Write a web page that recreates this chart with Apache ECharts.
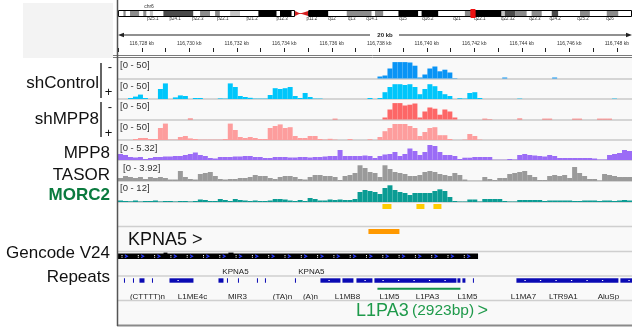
<!DOCTYPE html>
<html><head><meta charset="utf-8">
<script src="https://cdn.jsdelivr.net/npm/echarts@6/dist/echarts.min.js"></script>
<style>html,body{margin:0;padding:0;background:#fff;overflow:hidden}#chart{width:632px;height:329px}</style>
</head><body><div id="chart"></div>
<script>
// ---------------- view (kb) ----------------
const viewStartKb = 116727;
const viewEndKb = 116748;

// ---------------- signal tracks: 103 equal bins across the view ----------------
const shControlMinus = [
 0,0,0,0,0,0,0,0,0,0, 0,0,0,0,0,0,0,0,0,0, 0,0,0,0,0,0,0,0,0,0, 0,0,0,0,0,0,0,0,0,0,
 0,0,0,0,0,0,0,0,0,0, 0,0,5,7.5,25,41,41,41,40,32, 2.5,10,25,30,18,22,15,1,0,0,
 0,0,0,0,0,0,0,2.5,0,0, 0,0,0,0,0,0,0,2.5,0,0, 0,0,0,0,0,0,0,0,0,0, 0,0,0];
const shControlPlus = [
 0,0,2.5,6,11,2.5,0,0,25,39, 0,4,9,7.5,0,2.5,2.5,0,0,0, 1.5,1,39,30,7.5,5,3,1,1,1,
 10,27,25,27,30,7.5,2.5,15,5,1, 1,0,0,0,0,0,0,0,0,0, 2.5,0,2.5,17,30,37,37,35,37,30,
 12,25,37,32,20,12,7.5,0,2,1, 15,17,2.5,0,0,0,0,0,0,0, 1,0,0,0,0,0,0,0,0,0,
 0,0,0,0,0,0,0,0,0,1, 0,0,0];
const shMPP8Minus = [
 0,0,0,0,0,0,0,0,0,0, 0,0,0,0,2.5,0,0,0,0,0, 0,0,0,0,0,0,0,0,0,0, 0,0,0,0,0,0,0,0,0,0,
 0,0,0,2,0,0,0,0,0,0, 0,0,0,5,25,41,41,35,37,40, 5,20,30,27,12,25,20,5,0,0,
 0,0,0,2,1,0,0,0,0,0, 2.5,0,0,0,0,2,2,0,0,0, 0,2,2,0,0,0,2,2,2,0, 0,0,0];
const shMPP8Plus = [
 0,0,0,2.5,5,5,2.5,2.5,30,41, 1,1,7.5,10,4,2.5,1,1,1,1, 1,2.5,41,25,7.5,5,7.5,5,2.5,2.5,
 30,35,39,30,32,10,5,5,10,10, 2.5,1,3,1,0,0,2.5,0,0,0, 2,0,7.5,22,30,40,40,40,35,30,
 10,20,30,32,12,12,2.5,0,0,1, 15,10,1,0,0,0,0,0,0,0, 0,0,0,0,0,0,0,0,0,0,
 0,0,0,0,0,0,0,0,0,0, 0,0,0];
const mpp8 = [
 1.68,1.4,0.84,0.7,0.84,0.28,0.56,0.84,0.84,0.98, 0.98,1.12,1.12,1.4,1.68,2.1,1.4,1.12,0.56,0.42,
 0.84,0.84,0.84,0.98,0.98,1.12,1.12,0.84,0.84,0.56, 0.56,0.84,0.84,0.84,0.7,0.7,0.84,0.84,0.7,0.84,
 0.84,0.98,1.12,1.12,2.8,1.12,1.12,1.12,1.12,1.26, 1.12,0.56,1.12,1.54,1.68,2.24,1.12,1.68,3.22,2.52,
 1.4,2.24,4.2,3.92,2.24,1.4,1.4,1.12,0.28,0.64, 0.64,0.84,0.84,0.84,0.84,0.08,0.08,0.08,0.28,0.14,
 1.4,1.68,1.4,1.26,1.12,0.98,1.4,1.12,0.56,0.56, 0.56,0.56,0.56,0.56,0.56,0.42,0.14,0.14,1.4,1.68,
 1.96,2.8,2.52];
const tasor = [
 0.59,0.98,0.78,0.59,0.78,0.39,0.78,0.59,0.78,0.59, 0.29,0.29,1.96,0.78,0.39,0.29,1.37,1.57,1.76,0.98,
 0.39,0.29,0.39,0.39,0.59,0.59,0.78,1.18,0.98,0.98, 0.59,0.39,0.78,0.98,0.98,0.78,0.39,0.29,0.78,1.18,
 1.18,0.98,0.98,0.78,0.2,0.98,1.18,1.57,3.08,2.55, 1.76,1.57,0.78,3.08,2.35,1.76,1.57,1.37,0.98,0.98,
 1.18,1.76,1.96,1.76,1.37,1.18,0.98,1.57,1.18,0.29, 0.06,0.06,0.06,0.78,0.39,0.2,0.59,0.59,1.37,1.57,
 1.76,1.96,1.18,0.78,0.2,0.2,0.98,1.18,0.98,1.18, 0.59,2.74,1.57,0.98,0.39,0.39,0.1,1.37,1.18,0.98,
 0.78,0.78,0.78];
const morc2 = [
 0.86,0.57,0.4,0.86,0.29,0.57,0.57,0.86,0.29,0.57, 0.57,0.29,0.57,0.57,0.29,0.57,1.43,1.14,0.57,0.57,
 1.71,1.14,0.57,1.71,1.14,0.86,0.57,0.86,0.57,0.57, 0.86,1.71,1.71,1.43,0.86,0.57,1.14,0.57,2.28,1.71,
 0.86,0.86,1.43,1.14,1.43,1.14,1.14,1.71,5.71,6.85, 6.28,5.71,4.57,7.99,9.54,6.85,5.71,5.14,4.0,5.14,
 5.14,5.14,5.14,6.28,7.25,6.28,2.86,0.57,0.29,0.29, 1.43,1.43,0.29,1.71,1.71,1.71,1.71,0.57,0.29,0.29,
 1.14,1.14,1.14,1.14,1.14,0.57,0.86,0.86,0.86,0.86, 0.86,0.57,0.57,0.86,0.86,0.86,0.57,0.86,0.86,0.57,
 0.86,1.14,0.86];
const trackScaleMax = [50, 50, 50, 50, 5.32, 3.92, 12];
const trackScaleText = ['[0 - 50]','[0 - 50]','[0 - 50]','[0 - 50]','[0 - 5.32]','[0 - 3.92]','[0 - 12]'];

// ---------------- chromosome 6 ideogram (Mb) ----------------
const chromLengthMb = 171;
const ideogramBands = [
 [0,1.8,'gneg'],[1.8,2.6,'gpos50'],[2.6,4.0,'gneg'],[4.0,7.1,'gpos50'],[7.1,8.4,'gneg'],[8.4,9.5,'gpos50'],
 [9.5,10.6,'gneg'],[10.6,11.7,'gpos25'],[11.7,15.1,'gneg'],[15.1,25.1,'gpos75'],[25.1,27.3,'gneg'],
 [27.3,30.6,'gpos50'],[30.6,32.3,'gneg'],[32.3,33.9,'gpos50'],[33.9,37.3,'gneg'],[37.3,40.6,'gpos25'],
 [40.6,46.7,'gneg'],[46.7,52.8,'gpos100'],[52.8,53.9,'gneg'],[53.9,57.8,'gpos100'],[57.8,58.9,'gneg'],
 [58.9,60.6,'acenP'],[60.6,63.3,'acenQ'],[63.3,70.0,'gpos100'],[70.0,76.1,'gneg'],[76.1,84.4,'gpos50'],
 [84.4,85.5,'gneg'],[85.5,88.3,'gpos50'],[88.3,93.3,'gneg'],[93.3,99.9,'gpos100'],[99.9,101.0,'gneg'],
 [101.0,106.6,'gpos100'],[106.6,115.4,'gneg'],[115.4,117.4,'gpos50'],[117.4,127.6,'gpos100'],
 [127.6,128.7,'gpos25'],[128.7,132.1,'gpos75'],[132.1,136.0,'gpos50'],[136.0,137.6,'gneg'],
 [137.6,141.0,'gpos50'],[141.0,144.3,'gneg'],[144.3,146.5,'gpos75'],[146.5,153.7,'gneg'],
 [153.7,157.0,'gpos50'],[157.0,162.6,'gneg'],[162.6,166.5,'gpos50'],[166.5,171,'gneg']];
const ideogramArms = [[0,58.9],[63.3,171]];
const ideogramViewBox = [117.4,118.8];
const bandLabelPos = [11.6,19.0,26.6,34.9,44.6,54.6,64.5,71.2,77.8,84.5,94.8,103.1,112.8,120.4,129.7,138.7,145.4,154.7,163.7];
const bandLabelText = ['p25.1','p24.1','p22.3','p22.1','p21.2','p12.3','p11.2','q12','q13','q14.1','q15','q16.2','q21','q22.1','q22.32','q23.3','q24.2','q25.2','q26'];

// ---------------- annotation features (kb) ----------------
const peakRegions = [[116737.804,116738.172],[116739.193,116739.520],[116739.887,116740.214]];
const orangeRegions = [[116737.232,116738.498]];
const geneSpan = [[116727.0,116741.71]];
const geneExons = [[116728.86,116729.02],[116731.51,116731.72]];
const geneLabelPos = [116731.80,116734.90];
const geneLabelText = ['KPNA5','KPNA5'];
const repeatBlocks = [
 [116727.244,116727.285],[116727.612,116727.653],[116727.877,116728.082],[116728.388,116728.429],
 [116729.103,116730.083],[116731.105,116731.309],[116731.452,116731.493],[116731.901,116731.942],
 [116732.677,116732.718],[116733.004,116733.045],[116734.230,116734.271],[116735.271,116736.088],
 [116736.170,116736.619],[116736.742,116737.395],[116737.477,116740.827],[116740.868,116740.990],
 [116741.072,116741.194],[116741.501,116741.542],[116743.278,116747.444],[116747.526,116748.016]];
const repeatLabelPos = [116728.204,116730.042,116731.881,116733.719,116734.863,116736.374,116738.090,116739.642,116741.276,116743.564,116745.198,116747.036];
const repeatLabelText = ['(CTTTT)n','L1ME4c','MIR3','(TA)n','(A)n','L1MB8','L1M5','L1PA3','L1M5','L1MA7','LTR9A1','AluSp'];
const highlightRepeat = [[116737.600,116740.990]];

// ================= build =================
const FONT = '"Liberation Sans", Arial, Helvetica, sans-serif';
const L = 118, W = 514;
const grids = [], xAxes = [], yAxes = [], series = [];
function addGrid(top, height, xa, ya) {
  const gi = grids.length;
  grids.push({left: L, top: top, width: W, height: height, containLabel: false});
  xAxes.push(Object.assign({gridIndex: gi}, xa));
  yAxes.push(Object.assign({gridIndex: gi, show: false, splitLine: {show: false}}, ya));
  return gi;
}
const kbAxis = {type: 'value', min: viewStartKb, max: viewEndKb, show: false};
const bins = shControlMinus.map((_, i) => 'b' + i);

// ideogram
const stainColors = {gneg: '#ffffff', gpos25: '#c4c4c4', gpos50: '#8c8c8c', gpos75: '#4a4a4a', gpos100: '#000000'};
let gi = addGrid(11, 5, {type: 'value', min: 0, max: chromLengthMb, show: false}, {type: 'value', min: 0, max: 1});
series.push({type: 'custom', xAxisIndex: gi, yAxisIndex: gi, silent: true, data: ideogramBands.map(b => [b[0], b[1]]),
  renderItem(params, api) {
    const b = ideogramBands[params.dataIndex], cs = params.coordSys;
    const x1 = api.coord([b[0], 0])[0], x2 = api.coord([b[1], 0])[0], y0 = cs.y, h = cs.height;
    if (b[2] === 'acenP') return {type: 'group', children: [
      {type: 'polygon', shape: {points: [[x1, y0], [x2, y0 + h / 2], [x1, y0 + h]]}, style: {fill: '#d42020'}},
      {type: 'rect', shape: {x: x1, y: y0 + h / 2 - 0.5, width: x2 - x1, height: 1}, style: {fill: '#d42020'}}]};
    if (b[2] === 'acenQ') return {type: 'group', children: [
      {type: 'polygon', shape: {points: [[x2, y0], [x1, y0 + h / 2], [x2, y0 + h]]}, style: {fill: '#d42020'}},
      {type: 'rect', shape: {x: x1, y: y0 + h / 2 - 0.5, width: x2 - x1, height: 1}, style: {fill: '#d42020'}}]};
    return {type: 'rect', shape: {x: x1, y: y0, width: x2 - x1, height: h}, style: {fill: stainColors[b[2]]}};
  }});
series.push({type: 'custom', xAxisIndex: gi, yAxisIndex: gi, silent: true, z: 3, data: ideogramArms,
  renderItem(params, api) {
    const cs = params.coordSys, x1 = api.coord([api.value(0), 0])[0], x2 = api.coord([api.value(1), 0])[0];
    return {type: 'rect', shape: {x: x1 + 0.5, y: cs.y - 0.5, width: x2 - x1 - 1, height: cs.height + 1},
      style: {fill: 'none', stroke: '#000', lineWidth: 1}};
  }});
series.push({type: 'custom', xAxisIndex: gi, yAxisIndex: gi, silent: true, z: 4, data: [ideogramViewBox],
  renderItem(params, api) {
    const cs = params.coordSys, x1 = api.coord([api.value(0), 0])[0], x2 = api.coord([api.value(1), 0])[0];
    return {type: 'rect', shape: {x: x1, y: cs.y - 1.5, width: x2 - x1, height: cs.height + 3},
      style: {fill: '#ee1111', stroke: '#ee1111', lineWidth: 1}};
  }});
series.push({type: 'custom', xAxisIndex: gi, yAxisIndex: gi, silent: true, data: bandLabelPos.map(p => [p, 0]),
  renderItem(params, api) {
    const cs = params.coordSys, x = api.coord([api.value(0), 0])[0];
    return {type: 'text', style: {text: bandLabelText[params.dataIndex], x: x, y: cs.y + cs.height + 2.5,
      fill: '#333', fontSize: 4.5, fontFamily: FONT, align: 'center', verticalAlign: 'middle'}};
  }});

// ruler
const fmtKb = v => String(v).replace(/\B(?=(\d{3})+(?!\d))/g, ',') + ' kb';
gi = addGrid(44, 8, {type: 'value', min: viewStartKb, max: viewEndKb, interval: 1, show: true,
  axisLine: {show: false}, splitLine: {show: false},
  axisTick: {show: true, inside: true, length: 4, lineStyle: {color: '#222', width: 1}},
  axisLabel: {show: true, inside: true, margin: 6, fontSize: 5, color: '#333', fontFamily: FONT,
    showMinLabel: true, showMaxLabel: true, hideOverlap: false,
    formatter: v => (v % 2 === 0 ? fmtKb(v) : '')}}, {type: 'value', min: 0, max: 1});

// signal tracks
const trackData = [shControlMinus, shControlPlus, shMPP8Minus, shMPP8Plus, mpp8, tasor, morc2];
const trackColors = ['#0a94f5', '#00c6fb', '#fd6767', '#fd9d9d', '#9b6cf6', '#9a9a9a', '#0b9c94'];
const trackTops = [58.5, 79, 99.5, 120, 141, 161, 181];
const trackHeights = [20, 20, 20, 20, 19, 20, 21];
const scaleLabelX = [120, 120, 120, 120, 120, 123, 120];
const graphics = [];
trackData.forEach((d, k) => {
  const g = addGrid(trackTops[k], trackHeights[k], {type: 'category', data: bins, show: true, boundaryGap: true,
      axisLine: {show: true, lineStyle: {color: '#c9c9c9', width: 1.6}}, axisTick: {show: false}, axisLabel: {show: false},
      splitLine: {show: false}},
    {type: 'value', min: 0, max: trackScaleMax[k]});
  series.push({type: 'bar', xAxisIndex: g, yAxisIndex: g, data: d, silent: true, barWidth: '100%',
    itemStyle: {color: trackColors[k], borderWidth: 0}, z: 2});
  graphics.push({type: 'text', z: 100, left: scaleLabelX[k], top: trackTops[k] + 2,
    style: {text: trackScaleText[k], fill: '#333', fontSize: 9.5, fontFamily: FONT}});
});

// peaks (yellow)
function intervalSeries(gIdx, data, yOff, h, color, z) {
  series.push({type: 'custom', xAxisIndex: gIdx, yAxisIndex: gIdx, silent: true, z: z || 2, data: data,
    renderItem(params, api) {
      const cs = params.coordSys, x1 = api.coord([api.value(0), 0])[0], x2 = api.coord([api.value(1), 0])[0];
      return {type: 'rect', shape: {x: x1, y: cs.y + yOff, width: Math.max(1, x2 - x1), height: h}, style: {fill: color}};
    }});
}
gi = addGrid(202, 24, kbAxis, {type: 'value', min: 0, max: 1});
intervalSeries(gi, peakRegions, 2, 5, '#ffcc00');
gi = addGrid(227, 24, kbAxis, {type: 'value', min: 0, max: 1});
intervalSeries(gi, orangeRegions, 2, 5, '#ff9900');

// gene track
gi = addGrid(251, 25, kbAxis, {type: 'value', min: 0, max: 1});
series.push({type: 'custom', xAxisIndex: gi, yAxisIndex: gi, silent: true, data: geneSpan,
  renderItem(params, api) {
    const cs = params.coordSys, x1 = api.coord([api.value(0), 0])[0], x2 = api.coord([api.value(1), 0])[0];
    const y = cs.y + 2.5, h = 5.5, kids = [{type: 'rect', shape: {x: x1, y: y, width: x2 - x1, height: h}, style: {fill: '#000'}}];
    for (let x = x1 + 8; x < x2 - 4; x += 16.3) {
      kids.push({type: 'polyline', shape: {points: [[x - 1.2, y + 1.3], [x + 1.3, y + h / 2], [x - 1.2, y + h - 1.3]]},
        style: {stroke: '#2a3cff', lineWidth: 1.2, fill: 'none'}});
      kids.push({type: 'rect', shape: {x: x - 4.5, y: y + 1.5, width: 1, height: 1}, style: {fill: '#fff'}});
      kids.push({type: 'rect', shape: {x: x - 4.5, y: y + 3.2, width: 1, height: 1}, style: {fill: '#fff'}});
    }
    return {type: 'group', children: kids};
  }});
intervalSeries(gi, geneExons, 1.5, 6.5, '#000', 3);
series.push({type: 'custom', xAxisIndex: gi, yAxisIndex: gi, silent: true, data: geneLabelPos.map(p => [p, 0]),
  renderItem(params, api) {
    const cs = params.coordSys, x = api.coord([api.value(0), 0])[0];
    return {type: 'text', style: {text: geneLabelText[params.dataIndex], x: x, y: cs.y + 21,
      fill: '#222', fontSize: 8, fontFamily: FONT, align: 'center', verticalAlign: 'middle'}};
  }});

// repeats
gi = addGrid(276, 25, kbAxis, {type: 'value', min: 0, max: 1});
series.push({type: 'custom', xAxisIndex: gi, yAxisIndex: gi, silent: true, data: repeatBlocks,
  renderItem(params, api) {
    const cs = params.coordSys, x1 = api.coord([api.value(0), 0])[0], x2 = api.coord([api.value(1), 0])[0];
    const y = cs.y + 2.3, h = 4.4, kids = [{type: 'rect', shape: {x: x1, y: y, width: Math.max(1, x2 - x1), height: h}, style: {fill: '#0a0ab4'}}];
    if (x2 - x1 > 9) for (let x = x1 + 8; x < x2 - 3; x += 15.5)
      kids.push({type: 'rect', shape: {x: x, y: y + 1.7, width: 1.3, height: 1}, style: {fill: '#fff'}});
    return {type: 'group', children: kids};
  }});
series.push({type: 'custom', xAxisIndex: gi, yAxisIndex: gi, silent: true, data: repeatLabelPos.map(p => [p, 0]),
  renderItem(params, api) {
    const cs = params.coordSys, x = api.coord([api.value(0), 0])[0];
    return {type: 'text', style: {text: repeatLabelText[params.dataIndex], x: x, y: cs.y + 20.5,
      fill: '#222', fontSize: 8, fontFamily: FONT, align: 'center', verticalAlign: 'middle'}};
  }});
intervalSeries(gi, highlightRepeat, 11.8, 2, '#12924a', 3);

// ================= decorations =================
const bg = [
  {type: 'rect', z: -10, shape: {x: 118, y: 57, width: 514, height: 268}, style: {fill: '#f9f9f9'}},
  {type: 'rect', z: -10, shape: {x: 23, y: 3, width: 90, height: 55}, style: {fill: '#f3f3f3'}},
];
const lines = [];
function hline(y, x1, x2, c, w) { lines.push({type: 'line', z: 50, shape: {x1: x1, y1: y, x2: x2, y2: y}, style: {stroke: c, lineWidth: w}}); }
hline(55.5, 113, 632, '#7a7a7a', 1);
hline(57.5, 113, 632, '#7a7a7a', 1);
[226.5, 251.5, 276, 300.5].forEach(y => hline(y, 118, 632, '#cfcfcf', 1.5));
hline(325.5, 117, 632, '#8a8a8a', 2);
lines.push({type: 'line', z: 50, shape: {x1: 117.5, y1: 0, x2: 117.5, y2: 326}, style: {stroke: '#555', lineWidth: 1.5}});
// ruler line
hline(35, 121, 370, '#222', 1.2);
hline(35, 399, 629, '#222', 1.2);
lines.push({type: 'polygon', z: 50, shape: {points: [[118, 35], [124, 32.8], [124, 37.2]]}, style: {fill: '#222'}});
lines.push({type: 'polygon', z: 50, shape: {points: [[632, 35], [626, 32.8], [626, 37.2]]}, style: {fill: '#222'}});

const texts = [];
function txt(t, x, y, size, opts) {
  texts.push({type: 'text', z: 60, x: x, y: y, style: Object.assign({text: t, fontSize: size, fontFamily: FONT,
    fill: '#111', align: 'right', verticalAlign: 'middle'}, opts || {})});
}
txt('20 kb', 385, 35, 6, {align: 'center', fontWeight: 'bold', fill: '#222'});
txt('chr6', 149, 7, 5, {align: 'center', fill: '#333'});
txt('shControl', 99, 83, 17);
txt('shMPP8', 99, 119, 17);
txt('MPP8', 110, 153.5, 17);
txt('TASOR', 110, 175, 17);
txt('MORC2', 110, 195.5, 17, {fontWeight: 'bold', fill: '#0a7a3e'});
txt('Gencode V24', 110, 253.5, 17);
txt('Repeats', 110, 277, 17);
txt('-', 110, 67.5, 13, {align: 'center'});
txt('+', 108.5, 92, 13, {align: 'center'});
txt('-', 110, 107.5, 13, {align: 'center'});
txt('+', 108.5, 133, 13, {align: 'center'});
lines.push({type: 'line', z: 50, shape: {x1: 101, y1: 63, x2: 101, y2: 98}, style: {stroke: '#111', lineWidth: 1.3}});
lines.push({type: 'line', z: 50, shape: {x1: 101, y1: 102, x2: 101, y2: 137}, style: {stroke: '#111', lineWidth: 1.3}});
txt('KPNA5 >', 128, 240, 18, {align: 'left'});
texts.push({type: 'text', z: 60, x: 356, y: 311, style: {
  text: '{a|L1PA3} {b|(2923bp)} {a|>}', fontFamily: FONT, fill: '#1f9a4b', verticalAlign: 'middle',
  rich: {a: {fontSize: 18, fill: '#1f9a4b', fontFamily: FONT}, b: {fontSize: 15.5, fill: '#1f9a4b', fontFamily: FONT}}}});

const chart = echarts.init(document.getElementById('chart'), null, {renderer: 'canvas'});
chart.setOption({
  animation: false, backgroundColor: '#ffffff',
  grid: grids, xAxis: xAxes, yAxis: yAxes, series: series,
  graphic: {elements: bg.concat(graphics, lines, texts)}
});
</script></body></html>
